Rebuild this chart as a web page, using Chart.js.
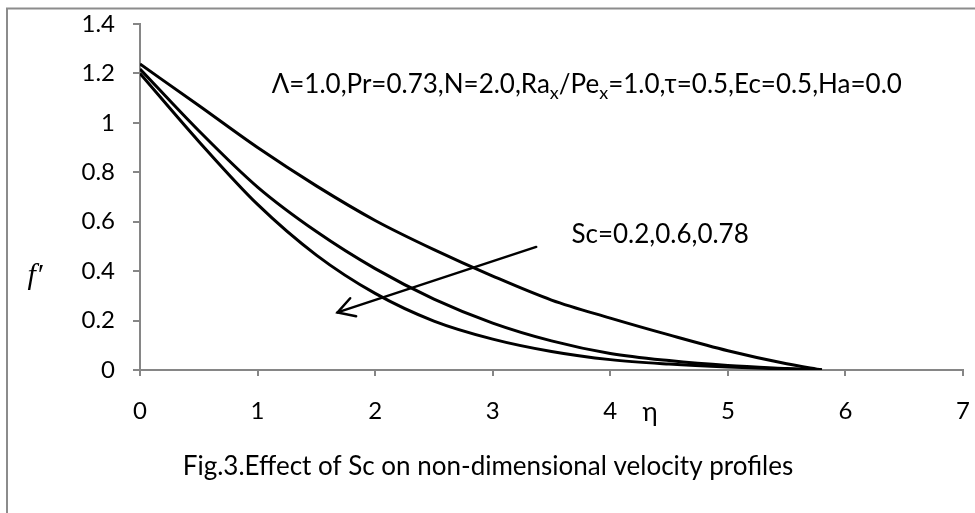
<!DOCTYPE html>
<html>
<head>
<meta charset="utf-8">
<script src="https://cdn.jsdelivr.net/npm/chart.js@4"></script>
<style>
html,body{margin:0;padding:0;background:#fff;}
#wrap{width:975px;height:513px;}
</style>
</head>
<body>
<div id="wrap"><canvas id="c" width="975" height="513"></canvas></div>
<script>
// ---- data ----
const eta = [0, 0.5, 1, 1.5, 2, 2.5, 3, 3.5, 4, 4.5, 5, 5.5, 5.8];
const sc02  = [1.238, 1.07, 0.90, 0.745, 0.605, 0.487, 0.38, 0.283, 0.21, 0.142, 0.078, 0.025, 0];
const sc06  = [1.218, 0.968, 0.74, 0.56, 0.41, 0.287, 0.19, 0.118, 0.067, 0.038, 0.018, 0.006, 0];
const sc078 = [1.20, 0.925, 0.67, 0.465, 0.31, 0.198, 0.125, 0.075, 0.042, 0.024, 0.012, 0.004, 0];
const xTickLabels = ['0', '1', '2', '3', '4', '5', '6', '7'];
const yTickLabels = ['0', '0.2', '0.4', '0.6', '0.8', '1', '1.2', '1.4'];
const paramText = ['Λ=1.0,Pr=0.73,N=2.0,Ra', 'x', '/Pe', 'x', '=1.0,τ=0.5,Ec=0.5,Ha=0.0'];
const paramPos = [1.12, 1.153];
const scText = 'Sc=0.2,0.6,0.78';
const scPos = [3.67, 0.546];
const arrowFrom = [3.37, 0.498];
const arrowTo = [1.68, 0.233];
const captionText = 'Fig.3.Effect of Sc on non-dimensional velocity profiles';
const xTitle = 'η';
const yTitle = 'f′';

const FONT = 'Lato';
const toPts = (xs, ys) => xs.map((x, i) => ({x: x, y: ys[i]}));

const extras = {
  id: 'extras',
  afterDraw(chart) {
    const ctx = chart.ctx, xs = chart.scales.x, ys = chart.scales.y;
    ctx.save();
    // outer frame
    ctx.strokeStyle = '#8c8c8c';
    ctx.lineWidth = 2;
    ctx.beginPath();
    ctx.moveTo(7, 520); ctx.lineTo(7, 8.5); ctx.lineTo(980, 8.5);
    ctx.stroke();

    ctx.fillStyle = '#000';
    // parameter text with subscripts
    let px = xs.getPixelForValue(paramPos[0]);
    const py = ys.getPixelForValue(paramPos[1]);
    ctx.textBaseline = 'middle';
    ctx.textAlign = 'left';
    paramText.forEach((seg, i) => {
      const sub = (i % 2 === 1);
      ctx.font = (sub ? '18px ' : '26px ') + FONT;
      ctx.fillText(seg, px, sub ? py + 8 : py);
      px += ctx.measureText(seg).width;
    });
    // Sc text
    ctx.font = '26px ' + FONT;
    ctx.fillText(scText, xs.getPixelForValue(scPos[0]), ys.getPixelForValue(scPos[1]));

    // axis titles
    ctx.textAlign = 'center';
    ctx.fillText(xTitle, 650, 413);
    ctx.font = 'italic 30px "Liberation Serif"';
    ctx.fillText(yTitle, 35, 276);
    // caption
    ctx.font = '26px ' + FONT;
    ctx.fillText(captionText, 488, 467);

    // arrow
    const x1 = xs.getPixelForValue(arrowFrom[0]), y1 = ys.getPixelForValue(arrowFrom[1]);
    const x2 = xs.getPixelForValue(arrowTo[0]), y2 = ys.getPixelForValue(arrowTo[1]);
    ctx.strokeStyle = '#000';
    ctx.lineWidth = 2.5;
    ctx.lineCap = 'round';
    ctx.beginPath(); ctx.moveTo(x1, y1); ctx.lineTo(x2, y2); ctx.stroke();
    const ang = Math.atan2(y1 - y2, x1 - x2);
    const L = 19, a = Math.PI / 6;
    ctx.beginPath();
    ctx.moveTo(x2 + L * Math.cos(ang - a), y2 + L * Math.sin(ang - a));
    ctx.lineTo(x2, y2);
    ctx.lineTo(x2 + L * Math.cos(ang + a), y2 + L * Math.sin(ang + a));
    ctx.stroke();
    ctx.restore();
  }
};

const ds = (d) => ({
  data: d, borderColor: '#000', borderWidth: 3, pointRadius: 0,
  fill: false, tension: 0.4, cubicInterpolationMode: 'monotone'
});

new Chart(document.getElementById('c'), {
  type: 'line',
  data: {
    datasets: [ds(toPts(eta, sc02)), ds(toPts(eta, sc06)), ds(toPts(eta, sc078))]
  },
  options: {
    responsive: false,
    animation: false,
    events: [],
    layout: {padding: {left: 0, right: 12, top: 24, bottom: 0}},
    plugins: {legend: {display: false}, tooltip: {enabled: false}},
    scales: {
      x: {
        type: 'linear', min: 0, max: 7,
        afterFit(s) { s.height = 143; s.paddingLeft = 0; s.paddingRight = 0; },
        grid: {drawOnChartArea: false, drawTicks: true, tickLength: 6, color: '#868686', lineWidth: 2},
        border: {display: true, color: '#868686', width: 2},
        ticks: {stepSize: 1, padding: 21, color: '#000', font: {family: FONT, size: 24},
          callback: (v, i) => xTickLabels[i]}
      },
      y: {
        type: 'linear', min: 0, max: 1.4,
        afterFit(s) { s.width = 140; s.paddingTop = 0; s.paddingBottom = 0; },
        grid: {drawOnChartArea: false, drawTicks: true, tickLength: 7, color: '#868686', lineWidth: 2},
        border: {display: true, color: '#868686', width: 2},
        ticks: {stepSize: 0.2, padding: 18, color: '#000', font: {family: FONT, size: 24},
          callback: (v, i) => yTickLabels[i]}
      }
    }
  },
  plugins: [extras]
});
</script>
</body>
</html>
